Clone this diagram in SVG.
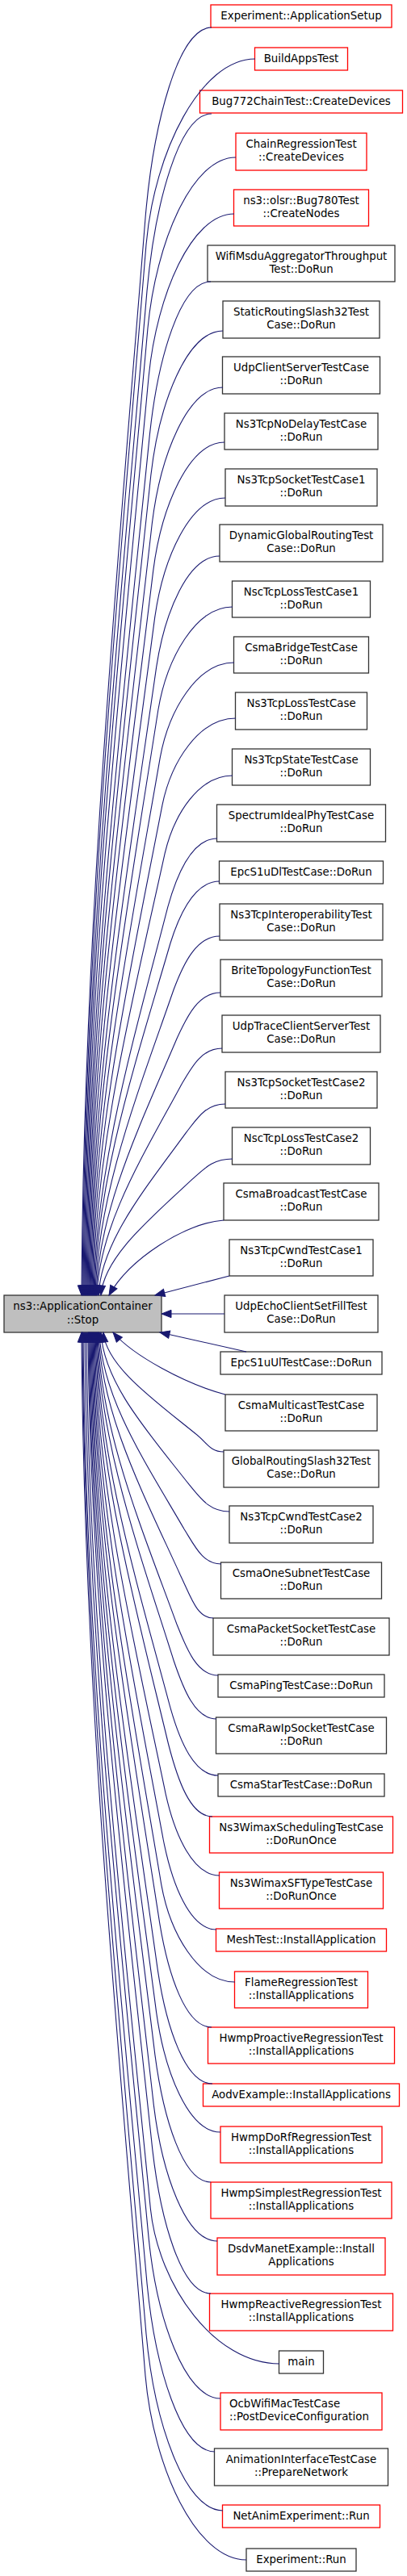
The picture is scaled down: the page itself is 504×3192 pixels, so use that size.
<svg xmlns="http://www.w3.org/2000/svg" width="504" height="3192" viewBox="0 0 504 3192">
<style>
.node rect{fill:#ffffff;stroke-width:1.3}
.red rect{stroke:#ff0000}
.gry rect{stroke:#333333}
.main rect{fill:#bfbfbf;stroke:#333333;stroke-width:1.3}
.node text{font-family:"DejaVu Sans",sans-serif;font-size:13.33px;fill:#000000;text-anchor:middle}
.edges path{fill:none;stroke:#191970;stroke-width:1.1;marker-end:url(#arr)}
</style>
<defs>
<marker id="arr" viewBox="0 0 14 10" refX="13" refY="5" markerWidth="14" markerHeight="10" markerUnits="userSpaceOnUse" orient="auto" overflow="visible">
<path d="M1,0.3 L13,5 L1,9.7 Z" fill="#191970" stroke="#191970" stroke-width="1"/>
</marker>
</defs>
<rect x="0" y="0" width="504" height="3192" fill="#ffffff"/>
<g id="nodes">
<g id="n0" class="node main"><rect x="5" y="1605" width="195" height="46"/><text x="102.5" y="1622.8">ns3::ApplicationContainer<tspan x="102.5" y="1639.6">::Stop</tspan></text></g>
<g id="n1" class="node red"><rect x="261" y="6" width="224" height="28"/><text x="373" y="23.5">Experiment::ApplicationSetup</text></g>
<g id="n2" class="node red"><rect x="315.5" y="59" width="115" height="28"/><text x="373" y="76.5">BuildAppsTest</text></g>
<g id="n3" class="node red"><rect x="247.5" y="112" width="251" height="28"/><text x="373" y="129.5">Bug772ChainTest::CreateDevices</text></g>
<g id="n4" class="node red"><rect x="292" y="165" width="162" height="46"/><text x="373" y="182.5">ChainRegressionTest<tspan x="373" y="199.3">::CreateDevices</tspan></text></g>
<g id="n5" class="node red"><rect x="289.5" y="235" width="167" height="45"/><text x="373" y="252.5">ns3::olsr::Bug780Test<tspan x="373" y="269.3">::CreateNodes</tspan></text></g>
<g id="n6" class="node gry"><rect x="257" y="304" width="232" height="45"/><text x="373" y="321.5">WifiMsduAggregatorThroughput<tspan x="373" y="338.3">Test::DoRun</tspan></text></g>
<g id="n7" class="node gry"><rect x="276" y="373" width="194" height="46"/><text x="373" y="390.5">StaticRoutingSlash32Test<tspan x="373" y="407.3">Case::DoRun</tspan></text></g>
<g id="n8" class="node gry"><rect x="275.5" y="442" width="195" height="46"/><text x="373" y="459.5">UdpClientServerTestCase<tspan x="373" y="476.3">::DoRun</tspan></text></g>
<g id="n9" class="node gry"><rect x="278" y="512" width="190" height="45"/><text x="373" y="529.5">Ns3TcpNoDelayTestCase<tspan x="373" y="546.3">::DoRun</tspan></text></g>
<g id="n10" class="node gry"><rect x="279" y="581" width="188" height="46"/><text x="373" y="598.5">Ns3TcpSocketTestCase1<tspan x="373" y="615.3">::DoRun</tspan></text></g>
<g id="n11" class="node gry"><rect x="272" y="650" width="202" height="46"/><text x="373" y="667.5">DynamicGlobalRoutingTest<tspan x="373" y="684.3">Case::DoRun</tspan></text></g>
<g id="n12" class="node gry"><rect x="287.5" y="720" width="171" height="45"/><text x="373" y="737.5">NscTcpLossTestCase1<tspan x="373" y="754.3">::DoRun</tspan></text></g>
<g id="n13" class="node gry"><rect x="289.5" y="789" width="167" height="45"/><text x="373" y="806.5">CsmaBridgeTestCase<tspan x="373" y="823.3">::DoRun</tspan></text></g>
<g id="n14" class="node gry"><rect x="291.5" y="858" width="163" height="46"/><text x="373" y="875.5">Ns3TcpLossTestCase<tspan x="373" y="892.3">::DoRun</tspan></text></g>
<g id="n15" class="node gry"><rect x="287.5" y="928" width="171" height="45"/><text x="373" y="945.5">Ns3TcpStateTestCase<tspan x="373" y="962.3">::DoRun</tspan></text></g>
<g id="n16" class="node gry"><rect x="268.5" y="997" width="209" height="46"/><text x="373" y="1014.5">SpectrumIdealPhyTestCase<tspan x="373" y="1031.3">::DoRun</tspan></text></g>
<g id="n17" class="node gry"><rect x="271.5" y="1067" width="203" height="28"/><text x="373" y="1084.5">EpcS1uDlTestCase::DoRun</text></g>
<g id="n18" class="node gry"><rect x="272" y="1120" width="202" height="45"/><text x="373" y="1137.5">Ns3TcpInteroperabilityTest<tspan x="373" y="1154.3">Case::DoRun</tspan></text></g>
<g id="n19" class="node gry"><rect x="273" y="1189" width="200" height="46"/><text x="373" y="1206.5">BriteTopologyFunctionTest<tspan x="373" y="1223.3">Case::DoRun</tspan></text></g>
<g id="n20" class="node gry"><rect x="275" y="1258" width="196" height="46"/><text x="373" y="1275.5">UdpTraceClientServerTest<tspan x="373" y="1292.3">Case::DoRun</tspan></text></g>
<g id="n21" class="node gry"><rect x="279" y="1328" width="188" height="45"/><text x="373" y="1345.5">Ns3TcpSocketTestCase2<tspan x="373" y="1362.3">::DoRun</tspan></text></g>
<g id="n22" class="node gry"><rect x="287.5" y="1397" width="171" height="46"/><text x="373" y="1414.5">NscTcpLossTestCase2<tspan x="373" y="1431.3">::DoRun</tspan></text></g>
<g id="n23" class="node gry"><rect x="277" y="1466" width="192" height="46"/><text x="373" y="1483.5">CsmaBroadcastTestCase<tspan x="373" y="1500.3">::DoRun</tspan></text></g>
<g id="n24" class="node gry"><rect x="284" y="1536" width="178" height="45"/><text x="373" y="1553.5">Ns3TcpCwndTestCase1<tspan x="373" y="1570.3">::DoRun</tspan></text></g>
<g id="n25" class="node gry"><rect x="278" y="1605" width="190" height="46"/><text x="373" y="1622.5">UdpEchoClientSetFillTest<tspan x="373" y="1639.3">Case::DoRun</tspan></text></g>
<g id="n26" class="node gry"><rect x="273" y="1675" width="200" height="28"/><text x="373" y="1692.5">EpcS1uUlTestCase::DoRun</text></g>
<g id="n27" class="node gry"><rect x="279" y="1728" width="188" height="45"/><text x="373" y="1745.5">CsmaMulticastTestCase<tspan x="373" y="1762.3">::DoRun</tspan></text></g>
<g id="n28" class="node gry"><rect x="277" y="1797" width="192" height="46"/><text x="373" y="1814.5">GlobalRoutingSlash32Test<tspan x="373" y="1831.3">Case::DoRun</tspan></text></g>
<g id="n29" class="node gry"><rect x="284" y="1866" width="178" height="46"/><text x="373" y="1883.5">Ns3TcpCwndTestCase2<tspan x="373" y="1900.3">::DoRun</tspan></text></g>
<g id="n30" class="node gry"><rect x="273.5" y="1936" width="199" height="45"/><text x="373" y="1953.5">CsmaOneSubnetTestCase<tspan x="373" y="1970.3">::DoRun</tspan></text></g>
<g id="n31" class="node gry"><rect x="264" y="2005" width="218" height="46"/><text x="373" y="2022.5">CsmaPacketSocketTestCase<tspan x="373" y="2039.3">::DoRun</tspan></text></g>
<g id="n32" class="node gry"><rect x="270" y="2075" width="206" height="28"/><text x="373" y="2092.5">CsmaPingTestCase::DoRun</text></g>
<g id="n33" class="node gry"><rect x="267.5" y="2128" width="211" height="45"/><text x="373" y="2145.5">CsmaRawIpSocketTestCase<tspan x="373" y="2162.3">::DoRun</tspan></text></g>
<g id="n34" class="node gry"><rect x="270" y="2198" width="206" height="28"/><text x="373" y="2215.5">CsmaStarTestCase::DoRun</text></g>
<g id="n35" class="node red"><rect x="259.5" y="2251" width="227" height="45"/><text x="373" y="2268.5">Ns3WimaxSchedulingTestCase<tspan x="373" y="2285.3">::DoRunOnce</tspan></text></g>
<g id="n36" class="node red"><rect x="271.5" y="2320" width="203" height="45"/><text x="373" y="2337.5">Ns3WimaxSFTypeTestCase<tspan x="373" y="2354.3">::DoRunOnce</tspan></text></g>
<g id="n37" class="node red"><rect x="267.5" y="2390" width="211" height="28"/><text x="373" y="2407.5">MeshTest::InstallApplication</text></g>
<g id="n38" class="node red"><rect x="290.5" y="2443" width="165" height="45"/><text x="373" y="2460.5">FlameRegressionTest<tspan x="373" y="2477.3">::InstallApplications</tspan></text></g>
<g id="n39" class="node red"><rect x="257.5" y="2512" width="231" height="45"/><text x="373" y="2529.5">HwmpProactiveRegressionTest<tspan x="373" y="2546.3">::InstallApplications</tspan></text></g>
<g id="n40" class="node red"><rect x="251.5" y="2582" width="243" height="28"/><text x="373" y="2599.5">AodvExample::InstallApplications</text></g>
<g id="n41" class="node red"><rect x="273" y="2635" width="200" height="45"/><text x="373" y="2652.5">HwmpDoRfRegressionTest<tspan x="373" y="2669.3">::InstallApplications</tspan></text></g>
<g id="n42" class="node red"><rect x="261" y="2704" width="224" height="45"/><text x="373" y="2721.5">HwmpSimplestRegressionTest<tspan x="373" y="2738.3">::InstallApplications</tspan></text></g>
<g id="n43" class="node red"><rect x="269" y="2773" width="208" height="46"/><text x="373" y="2790.5">DsdvManetExample::Install<tspan x="373" y="2807.3">Applications</tspan></text></g>
<g id="n44" class="node red"><rect x="259.5" y="2842" width="227" height="46"/><text x="373" y="2859.5">HwmpReactiveRegressionTest<tspan x="373" y="2876.3">::InstallApplications</tspan></text></g>
<g id="n45" class="node gry"><rect x="345.5" y="2913" width="55" height="28"/><text x="373" y="2930.5">main</text></g>
<g id="n46" class="node red"><rect x="273" y="2965" width="200" height="46"/><text x="284" y="2982.5" style="text-anchor:start">OcbWifiMacTestCase<tspan x="284" y="2999.3">::PostDeviceConfiguration</tspan></text></g>
<g id="n47" class="node gry"><rect x="265.5" y="3034" width="215" height="46"/><text x="373" y="3051.5">AnimationInterfaceTestCase<tspan x="373" y="3068.3">::PrepareNetwork</tspan></text></g>
<g id="n48" class="node red"><rect x="275.5" y="3104" width="195" height="28"/><text x="373" y="3121.5">NetAnimExperiment::Run</text></g>
<g id="n49" class="node gry"><rect x="305" y="3158" width="136" height="28"/><text x="373" y="3175.5">Experiment::Run</text></g>
</g>
<g id="edges" class="edges">
<path d="M262,34 C221,34 190,152 180,270 C144.5,715 103.4,1160 101,1605"/>
<path d="M316,73 C248.5,73 191,188 181,303 C145.5,737 104.4,1171 102,1605"/>
<path d="M262,141 C222,141 192.1,250.8 182,360.6 C146.5,775.4 105.4,1190 103,1605"/>
<path d="M292,195 C237.5,195 193.1,300.8 183,406.5 C147.5,806 106.4,1205.5 104,1605"/>
<path d="M290,265 C237.1,265 194.3,365.5 184.2,466 C148.6,845.6 107.4,1225.4 105,1605"/>
<path d="M261,349 C223.3,349 195.7,443.2 185.5,537.4 C149.7,893.2 108.4,1249.2 106,1605"/>
<path d="M276,410 C231.4,410 197,499.6 186.8,589.3 C150.9,927.8 109.4,1266.4 107,1605"/>
<path d="M276,480 C232.2,480 198.6,564.4 188.3,648.8 C152.2,967.5 110.4,1286.3 108,1605"/>
<path d="M278,548 C233.9,548 200.1,627.3 189.8,706.6 C153.4,1006 111.4,1305.5 109,1605"/>
<path d="M279,617 C235.4,617 202.2,691.1 191.7,765.2 C154.9,1045.1 112.5,1325.1 110,1605"/>
<path d="M272,689 C232.9,689 204.3,757.7 193.7,826.4 C156.5,1085.9 113.5,1345.5 111,1605"/>
<path d="M288,752 C241.9,752 206.5,816 195.8,880 C158.1,1121.6 114.5,1363.3 112,1605"/>
<path d="M290,821 C244.2,821 209.2,879.8 198.3,938.6 C159.9,1160.7 115.6,1382.9 113,1605"/>
<path d="M292,890 C246.5,890 212.1,943.6 201,997.3 C161.9,1199.8 116.6,1402.4 114,1605"/>
<path d="M288,961 C246,961 215.5,1009.3 204.1,1057.6 C164,1240 117.7,1422.5 115,1605"/>
<path d="M269,1039 C238.4,1039 219.6,1081.5 207.8,1123.9 C166.5,1284.2 118.8,1444.6 116,1605"/>
<path d="M272,1092 C241.5,1092 222.9,1130.5 210.9,1169 C168.6,1314.3 119.8,1459.7 117,1605"/>
<path d="M272,1160 C243.5,1160 227.3,1193.4 214.9,1226.8 C171.3,1352.8 120.9,1478.9 118,1605"/>
<path d="M273,1230 C246.2,1230 232.1,1258.1 219.3,1286.3 C174.2,1392.5 122,1498.8 119,1605"/>
<path d="M275,1299 C249.6,1299 237.4,1322 224.1,1344.9 C177.3,1431.6 123.1,1518.3 120,1605"/>
<path d="M279,1368 C254.7,1368 244.2,1385.8 230.3,1403.6 C181.6,1470.7 125.2,1537.9 122,1605"/>
<path d="M288,1436 C263,1436 252.4,1448.7 237.9,1461.4 C187.1,1509.2 128.4,1557.1 125,1605"/>
<path d="M277,1512 C230,1515 160,1560 135,1605"/>
<path d="M284,1581 L192,1605"/>
<path d="M278,1628 L200,1628"/>
<path d="M305,1675 L198,1651"/>
<path d="M279,1728 C230,1715 165,1680 140,1651"/>
<path d="M277,1799 C259.7,1799 257,1787.9 242.4,1776.8 C190.9,1734.9 131.4,1692.9 128,1651"/>
<path d="M284,1873 C259.2,1873 248.3,1856.4 234.3,1839.7 C185.1,1776.8 128.3,1713.9 125,1651"/>
<path d="M274,1938 C251.1,1938 241.7,1916.5 228.2,1895 C180.9,1813.6 126.2,1732.3 123,1651"/>
<path d="M264,2005 C243.7,2005 236.4,1978.5 223.4,1951.9 C177.8,1851.6 125,1751.3 122,1651"/>
<path d="M270,2076 C244.4,2076 231.3,2044.1 218.8,2012.3 C174.8,1891.8 123.9,1771.4 121,1651"/>
<path d="M268,2130 C241.7,2130 227.5,2094.1 215.3,2058.2 C172.4,1922.4 122.9,1786.7 120,1651"/>
<path d="M270,2200 C240.7,2200 223.2,2158.8 211.4,2117.7 C169.8,1962.1 121.8,1806.5 119,1651"/>
<path d="M263,2251 C235.8,2251 220.1,2206 208.5,2161 C167.8,1991 120.7,1821 118,1651"/>
<path d="M272,2324 C238.6,2324 216.5,2273.5 205.2,2223.1 C165.5,2032.4 119.6,1841.7 117,1651"/>
<path d="M268,2391 C235.2,2391 213.3,2335.5 202.3,2280 C163.5,2070.4 118.6,1860.6 116,1651"/>
<path d="M291,2456 C245.4,2456 210.7,2395.6 199.8,2335.3 C161.6,2107.2 117.5,1879 115,1651"/>
<path d="M262,2512 C229.9,2512 208.4,2447.4 197.7,2382.9 C160,2138.9 116.5,1894.9 114,1651"/>
<path d="M263,2582 C229.3,2582 206.1,2512.2 195.5,2442.4 C158.4,2178.6 115.5,1914.8 113,1651"/>
<path d="M273,2642 C233.3,2642 204,2567.7 193.6,2493.4 C156.9,2212.6 114.4,1931.7 112,1651"/>
<path d="M261,2704 C226.5,2704 202.3,2625 191.9,2546.1 C155.5,2247.7 113.4,1949.3 111,1651"/>
<path d="M269,2777 C229.7,2777 200.6,2692.6 190.3,2608.1 C154.2,2289.1 112.4,1970 110,1651"/>
<path d="M261,2842 C224.9,2842 199,2752.7 188.8,2663.4 C152.9,2325.9 111.4,1988.4 109,1651"/>
<path d="M346,2929 C266.2,2929 196.6,2833.2 186.4,2737.3 C150.7,2375.2 109.4,2013.1 107,1651"/>
<path d="M273,2972 C228.6,2972 194.3,2872.9 184.2,2773.9 C148.6,2399.6 107.4,2025.2 105,1651"/>
<path d="M266,3038 C224.1,3038 192.2,2934 182.1,2830 C146.5,2437 105.4,2043.9 103,1651"/>
<path d="M276,3111 C228.5,3111 191.1,3001.5 181,2892 C145.5,2478.4 104.4,2064.6 102,1651"/>
<path d="M305,3172 C242.5,3172 190.1,3057.9 180,2943.9 C144.5,2513 103.4,2081.9 101,1651"/>
</g>
</svg>
